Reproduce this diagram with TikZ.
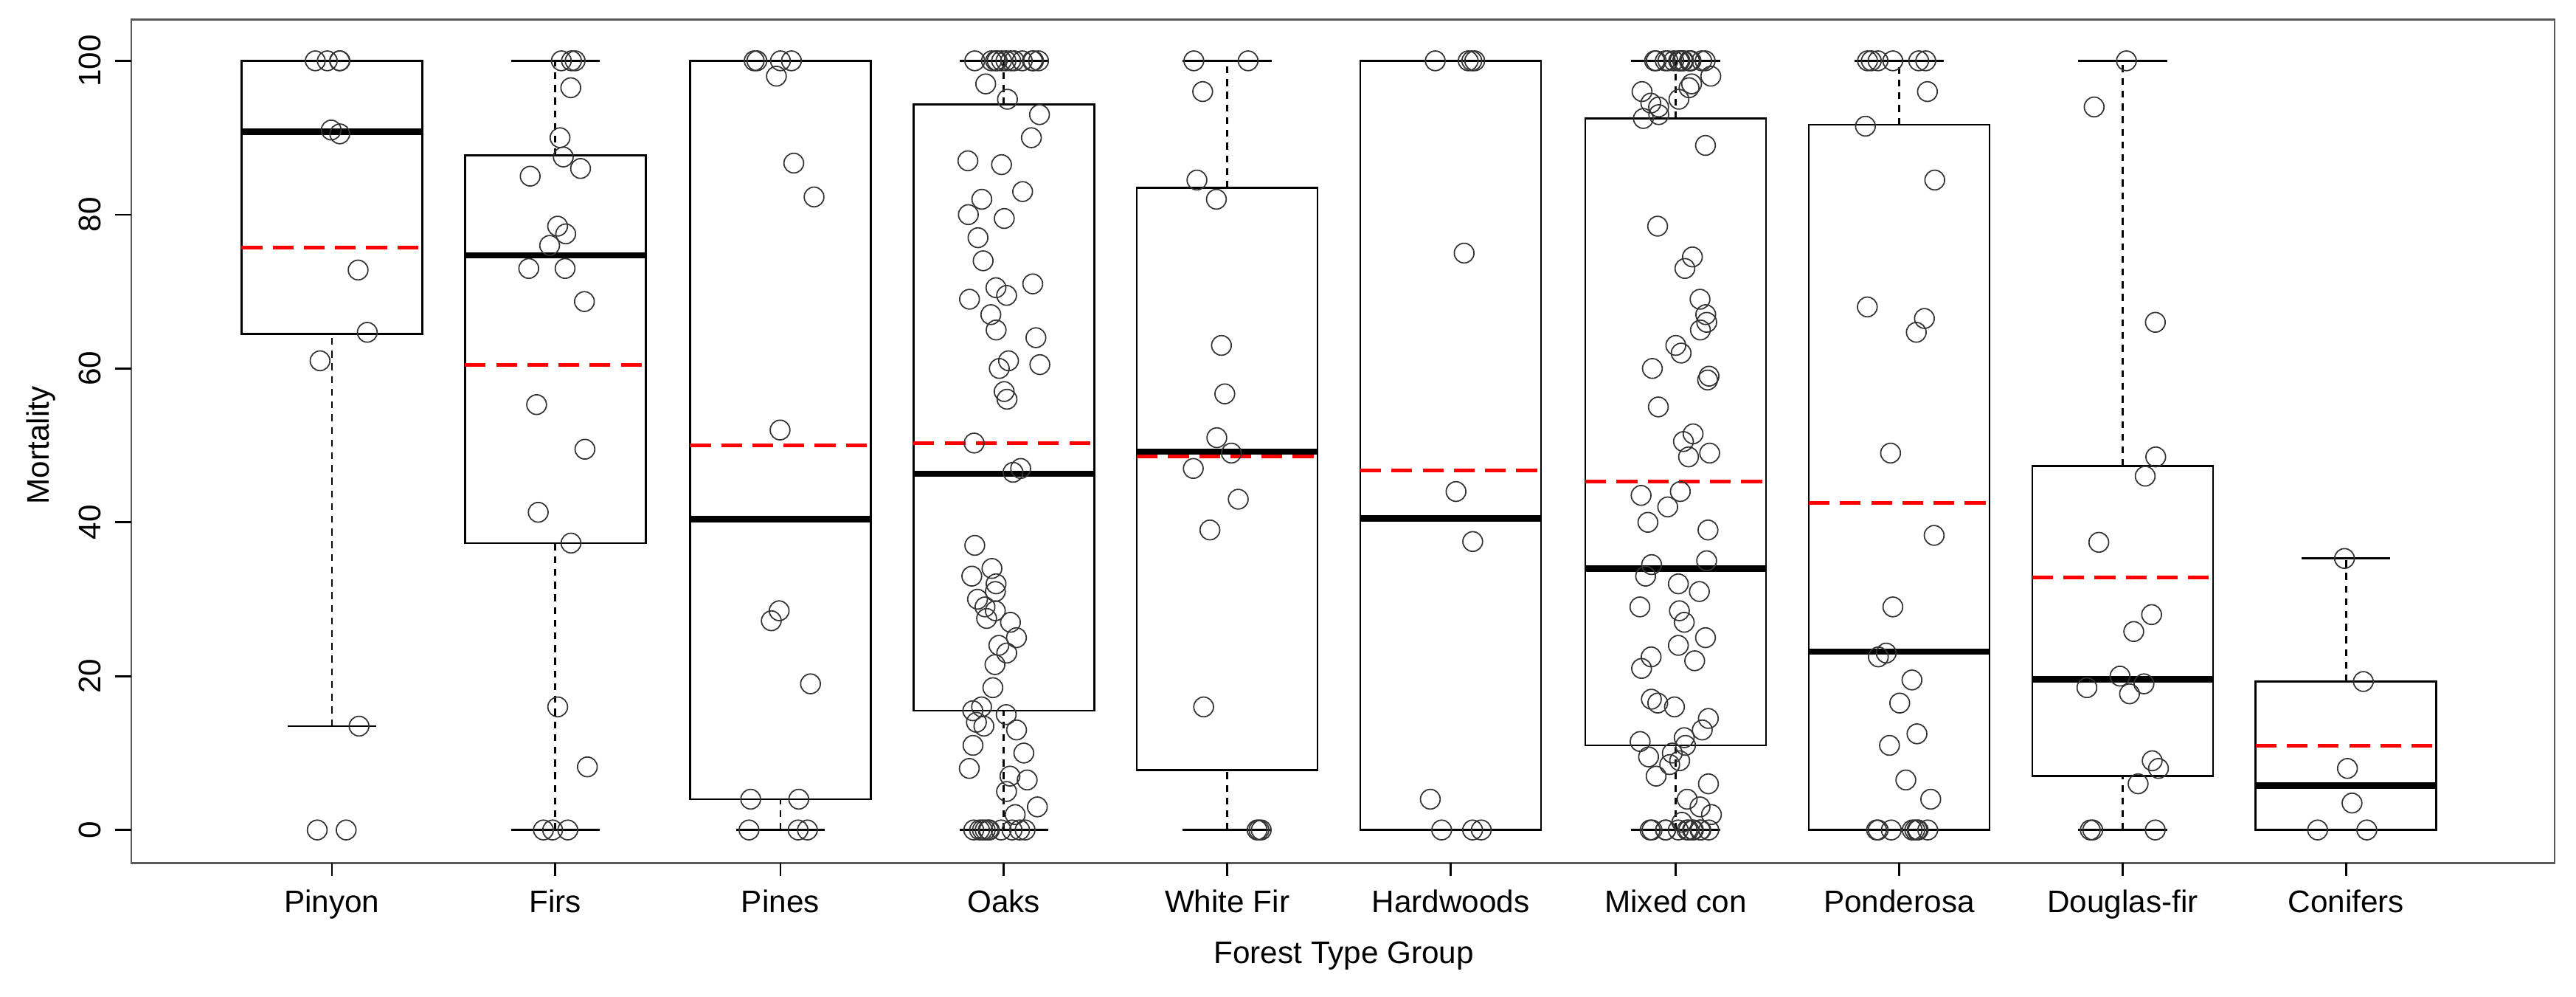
\documentclass[tikz,border=0pt]{standalone}
\usepackage{fontspec}
\setmainfont{Liberation Sans}
\begin{document}
\begin{tikzpicture}[x=0.05cm,y=-0.05cm,
  box/.style={line width=1.7pt},
  med/.style={line width=5.5pt},
  mn/.style={red,line width=3.2pt,dash pattern=on 18pt off 9pt},
  wh/.style={line width=1.6pt,dash pattern=on 6pt off 5pt},
  pt/.style={line width=1.1pt,gray!40!black},
  lab/.style={font=\fontsize{27}{32}\selectfont}]
\useasboundingbox (0,0) rectangle (1568,606.6);
% group: center, boxlo, boxhi, median, mean, wlo, whi, points
\newcommand\grp[8]{%
  \draw[wh] (#1,{505-4.68*(#6)}) -- (#1,{505-4.68*(#2)});
  \draw[wh] (#1,{505-4.68*(#3)}) -- (#1,{505-4.68*(#7)});
  \draw[box] (#1-27,{505-4.68*(#6)}) -- (#1+27,{505-4.68*(#6)});
  \draw[box] (#1-27,{505-4.68*(#7)}) -- (#1+27,{505-4.68*(#7)});
  \draw[box] (#1-55,{505-4.68*(#2)}) rectangle (#1+55,{505-4.68*(#3)});
  \draw[med] (#1-55,{505-4.68*(#4)}) -- (#1+55,{505-4.68*(#4)});
  \draw[mn] (#1-55,{505-4.68*(#5)}) -- (#1+55,{505-4.68*(#5)});
  \foreach \v in {#8}{\pgfmathsetmacro\xx{#1+22*rand}
    \draw[pt] (\xx,{505-4.68*\v}) circle[radius=0.3cm];}
}
\pgfmathsetseed{7}
\draw[line width=1.7pt,gray!70!black] (80,12) rectangle (1555,525);
\grp{202}{64.5}{100}{90.8}{75.7}{13.5}{100}{100,100,100,100,90.5,91,72.8,64.7,61,13.5,0,0}
\grp{338}{37.3}{87.7}{74.7}{60.5}{0}{100}{100,100,96.5,100,90,87.5,86,85,78.5,77.5,76,73,73,68.7,55.3,49.5,41.3,37.3,16,8.2,0,0,0}
\grp{475}{4}{100}{40.4}{50}{0}{100}{98,100,100,100,100,86.7,82.3,52,28.5,27.2,19,4,4,0,0,0}
\grp{611}{15.5}{94.3}{46.3}{50.3}{0}{100}{100,100,100,100,100,100,100,100,100,100,100,100,97,95,93,90,87,86.5,83,82,80,79.5,77,74,71,70.5,69.5,69,67,65,64,61,60.5,60,57,56,50.3,47,46.5,37,34,33,32,31,30,29,28.5,27.5,27,25,24,23,21.5,18.5,16,15.5,15,14,13.5,13,11,10,8,7,6.5,5,3,2,0,0,0,0,0,0,0,0,0,0}
\grp{747}{7.8}{83.5}{49.2}{48.6}{0}{100}{100,100,96,84.5,82,63,56.7,51,49,47,43,39,16,0,0,0}
\grp{883}{0}{100}{40.5}{46.7}{0}{100}{100,100,100,100,75,44,37.5,4,0,0,0}
\grp{1020}{11}{92.5}{34}{45.3}{0}{100}{100,100,100,100,100,100,100,100,100,100,100,100,100,100,100,100,98,97,96.5,96,95,94.5,94,93,92.5,89,78.5,74.5,73,69,67,66,65,63,62,60,59,58.5,55,51.5,50.5,49,48.5,44,43.5,42,40,39,35,34.5,33,32,31,29,28.5,27,25,24,22.5,22,21,17,16.5,16,14.5,13,12,11.5,11,10,9.5,9,8.5,7,6,4,3,2,1,0,0,0,0,0,0,0,0,0,0,0,0}
\grp{1156}{0}{91.7}{23.2}{42.5}{0}{100}{100,100,100,100,100,100,96,91.5,84.5,68,66.5,64.7,49,38.3,29,23,22.5,19.5,16.5,12.5,11,6.5,4,0,0,0,0,0,0,0,0}
\grp{1292}{7}{47.3}{19.6}{32.8}{0}{100}{100,94,66,48.5,46,37.4,28,25.8,20,19,17.7,18.5,9,8,6,0,0,0}
\grp{1428}{0}{19.3}{5.8}{11}{0}{35.3}{35.3,19.3,8,3.5,0,0}
% y axis
\foreach \v in {0,20,...,100}{
  \draw[box] (80,{505-4.68*\v}) -- (70,{505-4.68*\v});
  \node[lab,rotate=90,anchor=south] (yt\v) at (64,{505-4.68*\v}) {\v};}
\node[lab,rotate=90] (ylab) at (25,271) {Mortality};
% x axis
\foreach \c/\t [count=\i] in {202/Pinyon,338/Firs,475/Pines,611/Oaks,747/White Fir,883/Hardwoods,1020/Mixed con,1156/Ponderosa,1292/Douglas-fir,1428/Conifers}{
  \draw[box] (\c,525) -- (\c,533);
  \node[lab,anchor=base] (xt\i) at (\c,555) {\t};}
\node[lab,anchor=base] (xlab) at (818,586) {Forest Type Group};
\end{tikzpicture}
\end{document}
